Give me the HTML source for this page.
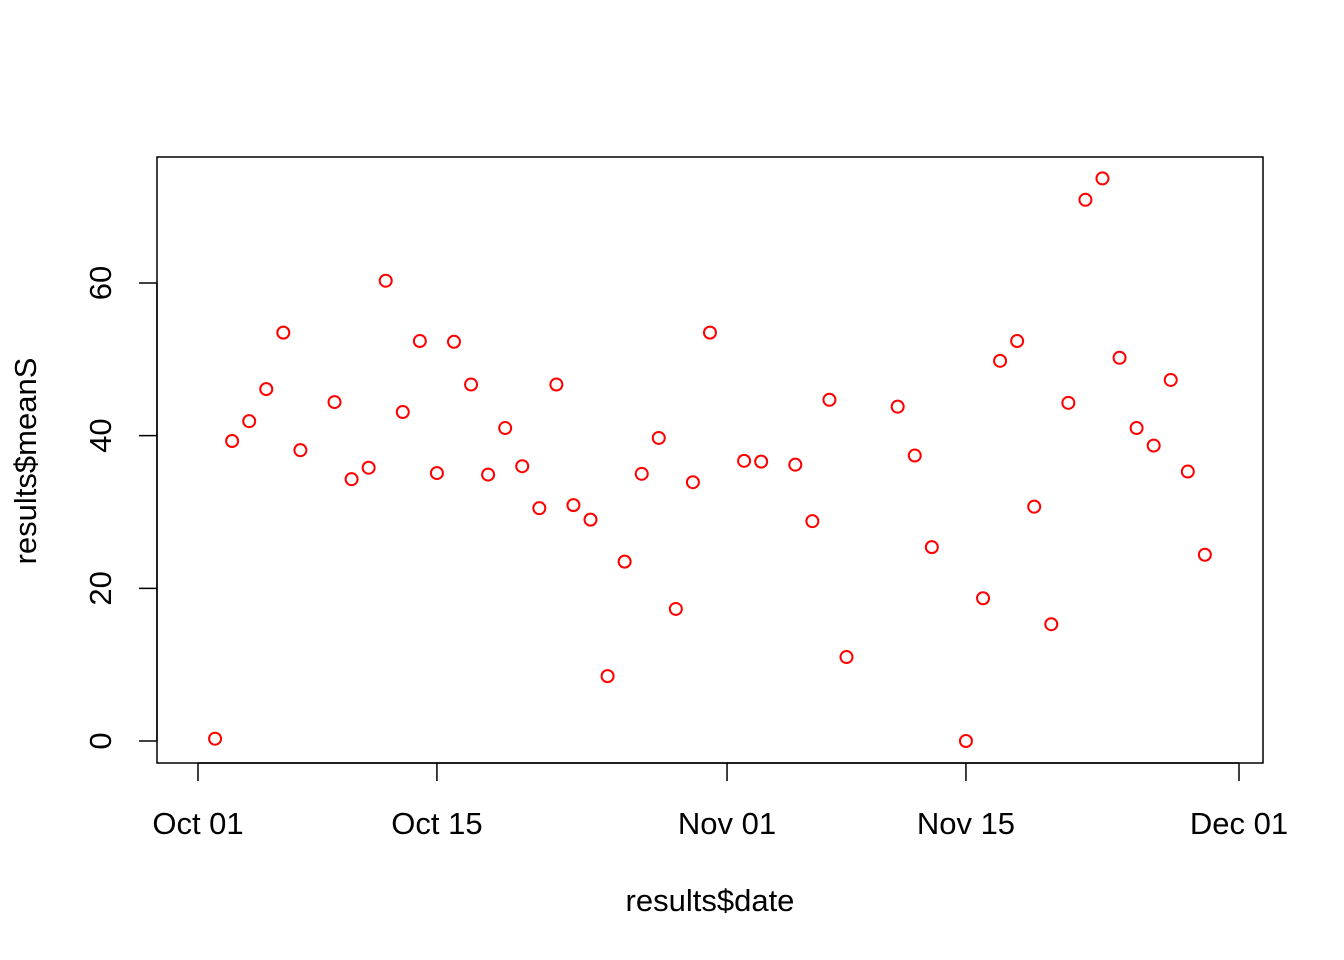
<!DOCTYPE html>
<html><head><meta charset="utf-8"><style>
html,body{margin:0;padding:0;background:#fff;}
svg{display:block;font-family:"Liberation Sans",Arial,sans-serif;}
</style></head><body>
<svg id="chart" width="1344" height="960" viewBox="0 0 1344 960" xmlns="http://www.w3.org/2000/svg">
<rect x="157" y="157" width="1106" height="606" fill="none" stroke="#000" stroke-width="1.5"/>
<g id="axes"></g>
<g id="points"></g>
<text x="710" y="911" font-size="31" text-anchor="middle">results$date</text>
<text x="0" y="0" font-size="31" text-anchor="middle" transform="translate(36,461) rotate(-90)">results$meanS</text>
</svg>
<script>
// day offsets from Oct 01
const days = [1,2,3,4,5,6,8,9,10,11,12,13,14,15,16,17,18,19,20,21,22,23,24,25,26,27,28,29,30,32,33,35,36,37,38,41,42,43,45,46,47,48,49,50,51,52,53,54,55,56,57,58,59];
const meanS = [0.3,39.3,41.9,46.1,53.5,38.1,44.4,34.3,35.8,60.3,43.1,52.4,35.1,52.3,46.7,34.9,41.0,36.0,30.5,46.7,30.9,29.0,8.5,23.5,35.0,39.7,17.3,33.9,53.5,36.7,36.6,36.2,28.8,44.7,11.0,43.8,37.4,25.4,0.0,18.7,49.8,52.4,30.7,15.3,44.3,70.9,73.7,50.2,41.0,38.7,47.3,35.3,24.4];
const xTickDays = [0,14,31,45,61];
const xTickLabels = ["Oct 01","Oct 15","Nov 01","Nov 15","Dec 01"];
const yTicks = [0,20,40,60];

const NS = "http://www.w3.org/2000/svg";
const xs = d => 198 + d * (1239 - 198) / 61;
const ys = v => 741 - v * (741 - 283) / 60;
const axes = document.getElementById('axes');
const pts = document.getElementById('points');
function mk(tag, attrs, parent){const e=document.createElementNS(NS,tag);for(const k in attrs)e.setAttribute(k,attrs[k]);parent.appendChild(e);return e;}

mk('line',{x1:xs(xTickDays[0]),x2:xs(xTickDays[xTickDays.length-1]),y1:763,y2:763,stroke:'#000','stroke-width':1.5},axes);
xTickDays.forEach((d,i)=>{
  const t=mk('line',{x1:xs(d),x2:xs(d),y1:763,y2:781,stroke:'#000','stroke-width':1.5},axes);
  
  
  const l=mk('text',{x:xs(d),y:834,'font-size':31,'text-anchor':'middle'},axes);
  l.textContent=xTickLabels[i];
  
  
});
mk('line',{x1:157,x2:157,y1:ys(yTicks[0]),y2:ys(yTicks[yTicks.length-1]),stroke:'#000','stroke-width':1.5},axes);
yTicks.forEach(v=>{
  const t=mk('line',{x1:139,x2:157,y1:ys(v),y2:ys(v),stroke:'#000','stroke-width':1.5},axes);
  
  
  const l=mk('text',{x:0,y:0,'font-size':31,'text-anchor':'middle',transform:`translate(111,${ys(v)}) rotate(-90)`},axes);
  l.textContent=v;
  
  
});
days.forEach((d,i)=>{
  const c=mk('circle',{cx:xs(d),cy:ys(meanS[i]),r:6,fill:'none',stroke:'#ff0000','stroke-width':2},pts);
  
  
});
</script>
</body></html>
